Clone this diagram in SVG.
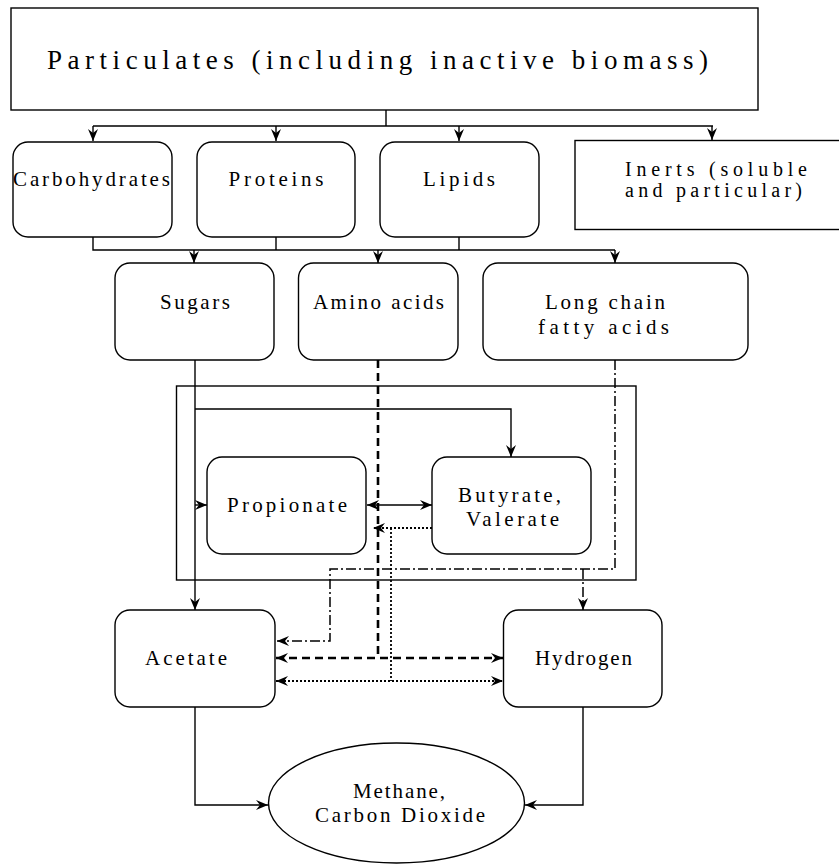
<svg xmlns="http://www.w3.org/2000/svg" width="839" height="865" viewBox="0 0 839 865">
<style>
.box{fill:#fff;stroke:#000;stroke-width:1.4}
.t{font-family:'Liberation Serif','Times New Roman','DejaVu Serif',serif;font-size:21px;fill:#000;text-anchor:middle}
.ln{fill:none;stroke:#000;stroke-width:1.4}
.dash{fill:none;stroke:#000;stroke-width:2.6;stroke-dasharray:8 5}
.dot{fill:none;stroke:#000;stroke-width:1.8;stroke-dasharray:2 2}
.dd{fill:none;stroke:#000;stroke-width:1.5;stroke-dasharray:10 3 2 3}
</style>
<defs>
<marker id="ah" viewBox="0 0 12 10" refX="12" refY="5" markerWidth="12" markerHeight="10" markerUnits="userSpaceOnUse" orient="auto-start-reverse">
<path d="M0,0 L12,5 L0,10 L4,5 z" fill="#000"/>
</marker>
</defs>
<rect width="839" height="865" fill="#fff"/>
<g id="connectors">
<path class="ln" d="M386,110 V126 M93,126 H713"/>
<path class="ln" d="M93,126 V141" marker-end="url(#ah)"/>
<path class="ln" d="M276,126 V141" marker-end="url(#ah)"/>
<path class="ln" d="M459,126 V141" marker-end="url(#ah)"/>
<path class="ln" d="M712,126 V140" marker-end="url(#ah)"/>
<path class="ln" d="M93,237 V250 H615 M276,237 V250 M459,237 V250"/>
<path class="ln" d="M194,250 V263" marker-end="url(#ah)"/>
<path class="ln" d="M378,250 V263" marker-end="url(#ah)"/>
<path class="ln" d="M615,250 V263" marker-end="url(#ah)"/>
<path class="ln" d="M195,360 V610" marker-end="url(#ah)"/>
<path class="ln" d="M195,409 H511 V457" marker-end="url(#ah)"/>
<path class="ln" d="M195,505 H207" marker-end="url(#ah)"/>
<path class="ln" d="M367,505 H432" marker-start="url(#ah)" marker-end="url(#ah)"/>
<path class="dash" d="M378,360 V658"/>
<path class="dash" d="M276,658 H503" marker-start="url(#ah)" marker-end="url(#ah)"/>
<path class="dot" d="M432,528 H373" marker-end="url(#ah)"/>
<path class="dot" d="M391,528 V681"/>
<path class="dot" d="M276,681 H503" marker-start="url(#ah)" marker-end="url(#ah)"/>
<path class="dd" d="M615,360 V569 H330 V641 H277" marker-end="url(#ah)"/>
<path class="dd" d="M583,569 V610" marker-end="url(#ah)"/>
<path class="ln" d="M195,707 V805 H268" marker-end="url(#ah)"/>
<path class="ln" d="M583,707 V805 H525" marker-end="url(#ah)"/>
</g>
<g id="group-box"><rect class="ln" x="176.5" y="386" width="459.5" height="194"/></g>
<g id="particulates">
<rect class="box" x="11" y="8" width="747" height="102"/>
<text class="t" x="377.5" y="69" style="font-size:27px" textLength="661" lengthAdjust="spacing">Particulates (including inactive biomass)</text>
</g>
<g id="carbohydrates">
<rect class="box" x="13" y="142" width="159" height="95" rx="15"/>
<text class="t" x="91.5" y="186" textLength="157" lengthAdjust="spacing">Carbohydrates</text>
</g>
<g id="proteins">
<rect class="box" x="197" y="142" width="158" height="95" rx="15"/>
<text class="t" x="276" y="186" textLength="95" lengthAdjust="spacing">Proteins</text>
</g>
<g id="lipids">
<rect class="box" x="380" y="142" width="159" height="95" rx="15"/>
<text class="t" x="459" y="186" textLength="72" lengthAdjust="spacing">Lipids</text>
</g>
<g id="inerts">
<rect class="box" x="575" y="140.5" width="280" height="89"/>
<text class="t" x="625" y="176" style="text-anchor:start;font-size:20px" textLength="182" lengthAdjust="spacing">Inerts (soluble</text>
<text class="t" x="625" y="197" style="text-anchor:start;font-size:20px" textLength="177" lengthAdjust="spacing">and particular)</text>
</g>
<g id="sugars">
<rect class="box" x="115" y="263" width="159" height="97" rx="15"/>
<text class="t" x="195" y="309" textLength="70" lengthAdjust="spacing">Sugars</text>
</g>
<g id="amino-acids">
<rect class="box" x="298.5" y="263" width="159.5" height="97" rx="15"/>
<text class="t" x="378.5" y="309" textLength="131" lengthAdjust="spacing">Amino acids</text>
</g>
<g id="lcfa">
<rect class="box" x="483" y="263" width="265" height="97" rx="15"/>
<text class="t" x="605" y="309" textLength="120" lengthAdjust="spacing">Long chain</text>
<text class="t" x="603.5" y="334" textLength="131" lengthAdjust="spacing">fatty acids</text>
</g>
<g id="propionate">
<rect class="box" x="207" y="457" width="159" height="97" rx="15"/>
<text class="t" x="287" y="512" textLength="120" lengthAdjust="spacing">Propionate</text>
</g>
<g id="butyrate">
<rect class="box" x="432" y="457" width="159" height="97" rx="15"/>
<text class="t" x="509.5" y="502" textLength="103" lengthAdjust="spacing">Butyrate,</text>
<text class="t" x="512.5" y="526" textLength="93" lengthAdjust="spacing">Valerate</text>
</g>
<g id="acetate">
<rect class="box" x="115" y="610" width="160" height="97" rx="15"/>
<text class="t" x="186" y="665" textLength="82" lengthAdjust="spacing">Acetate</text>
</g>
<g id="hydrogen">
<rect class="box" x="503.5" y="610" width="158.5" height="97" rx="15"/>
<text class="t" x="583.5" y="665" textLength="97" lengthAdjust="spacing">Hydrogen</text>
</g>
<g id="methane">
<ellipse class="box" cx="396.5" cy="803" rx="128" ry="60"/>
<text class="t" x="399" y="798" textLength="92" lengthAdjust="spacing">Methane,</text>
<text class="t" x="400" y="822" textLength="170" lengthAdjust="spacing">Carbon Dioxide</text>
</g>
</svg>
